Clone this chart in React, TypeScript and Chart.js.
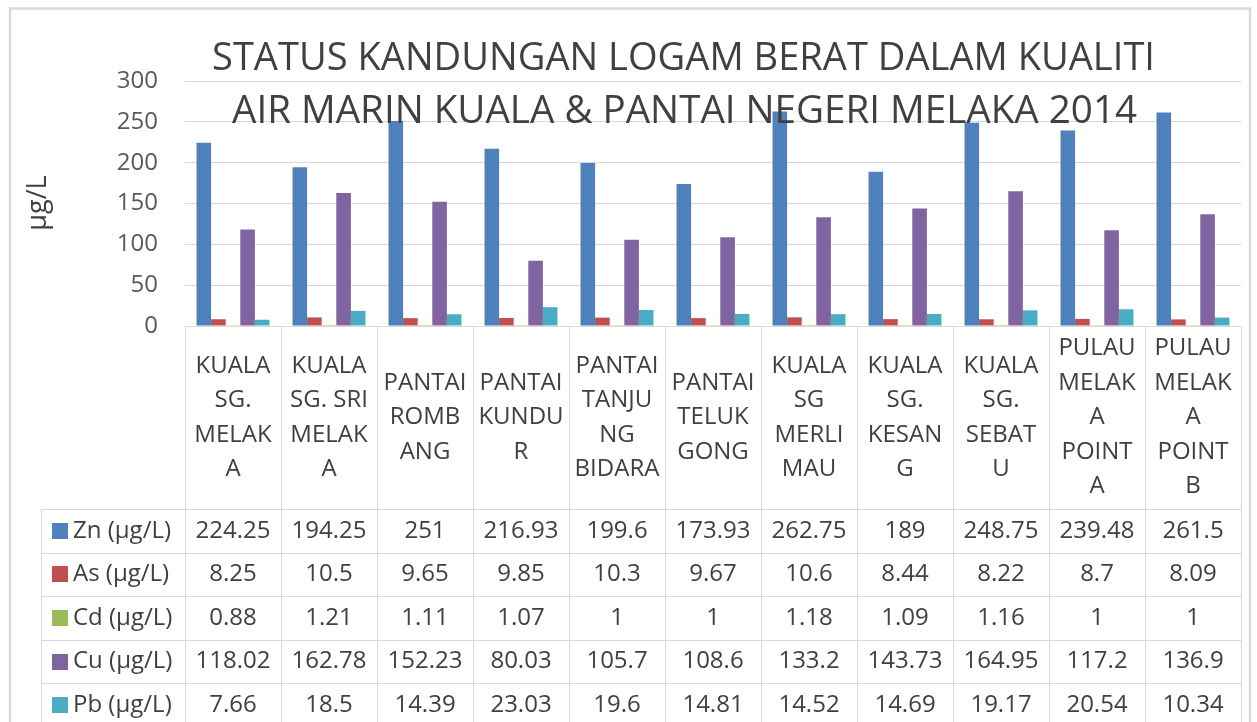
import React, { useEffect, useRef } from "react";
import { Chart, registerables } from "chart.js";

Chart.register(...registerables);

const titleLines = [
  "STATUS KANDUNGAN LOGAM BERAT DALAM KUALITI",
  "AIR MARIN KUALA & PANTAI NEGERI MELAKA 2014",
];
const yAxisTitle = "µg/L";

const categoryLines: string[][] = [
  ["KUALA", "SG.", "MELAK", "A"],
  ["KUALA", "SG. SRI", "MELAK", "A"],
  ["PANTAI", "ROMB", "ANG"],
  ["PANTAI", "KUNDU", "R"],
  ["PANTAI", "TANJU", "NG", "BIDARA"],
  ["PANTAI", "TELUK", "GONG"],
  ["KUALA", "SG", "MERLI", "MAU"],
  ["KUALA", "SG.", "KESAN", "G"],
  ["KUALA", "SG.", "SEBAT", "U"],
  ["PULAU", "MELAK", "A", "POINT", "A"],
  ["PULAU", "MELAK", "A", "POINT", "B"],
];

const seriesNames = ["Zn (µg/L)", "As (µg/L)", "Cd (µg/L)", "Cu (µg/L)", "Pb (µg/L)"];
const seriesColors = ["#4F81BD", "#C0504D", "#9BBB59", "#8064A2", "#4BACC6"];

const zn = [224.25, 194.25, 251, 216.93, 199.6, 173.93, 262.75, 189, 248.75, 239.48, 261.5];
const as = [8.25, 10.5, 9.65, 9.85, 10.3, 9.67, 10.6, 8.44, 8.22, 8.7, 8.09];
const cd = [0.88, 1.21, 1.11, 1.07, 1, 1, 1.18, 1.09, 1.16, 1, 1];
const cu = [118.02, 162.78, 152.23, 80.03, 105.7, 108.6, 133.2, 143.73, 164.95, 117.2, 136.9];
const pb = [7.66, 18.5, 14.39, 23.03, 19.6, 14.81, 14.52, 14.69, 19.17, 20.54, 10.34];

const seriesValues = [zn, as, cd, cu, pb];

const yMin = 0;
const yMax = 300;
const yStep = 50;

const FONT = "'Open Sans', 'Noto Sans', sans-serif";
const TEXT = "#404040";
const GRID = "#d9d9d9";

const tablePlugin = {
  id: "excelTable",
  beforeDraw(chart: any) {
    const ctx = chart.ctx;
    ctx.save();
    ctx.fillStyle = "#ffffff";
    ctx.fillRect(0, 0, chart.width, chart.height);
    ctx.restore();
  },
  afterDraw(chart: any) {
    const ctx = chart.ctx;
    const area = chart.chartArea;
    const xs = chart.scales.x;
    const n = categoryLines.length;
    const colW = (area.right - area.left) / n;
    const headerBottom = 509;
    const rowH = 43.6;
    const legendLeft = 41;
    const bottom = chart.height + 10;

    ctx.save();
    // frame
    ctx.strokeStyle = GRID;
    ctx.lineWidth = 2.5;
    ctx.strokeRect(10, 8.5, 1240, 800);

    // title
    ctx.fillStyle = TEXT;
    ctx.textAlign = "center";
    ctx.textBaseline = "alphabetic";
    ctx.font = `39px ${FONT}`;
    ctx.fillText(titleLines[0], 683.5, 70, 943);
    ctx.fillText(titleLines[1], 684.5, 123, 905);

    // y-axis title
    ctx.save();
    ctx.translate(38, 203);
    ctx.rotate(-Math.PI / 2);
    ctx.font = `27px ${FONT}`;
    ctx.textBaseline = "middle";
    ctx.fillText(yAxisTitle, 0, 0);
    ctx.restore();

    // table lines
    ctx.strokeStyle = GRID;
    ctx.lineWidth = 1;
    ctx.beginPath();
    for (let i = 0; i <= n; i++) {
      const x = Math.round(area.left + i * colW) + 0.5;
      ctx.moveTo(x, area.bottom);
      ctx.lineTo(x, bottom);
    }
    ctx.moveTo(legendLeft + 0.5, headerBottom);
    ctx.lineTo(legendLeft + 0.5, bottom);
    for (let r = 0; r <= seriesNames.length; r++) {
      const y = Math.round(headerBottom + r * rowH) + 0.5;
      ctx.moveTo(legendLeft, y);
      ctx.lineTo(area.right, y);
    }
    ctx.stroke();

    // category labels
    ctx.fillStyle = TEXT;
    ctx.font = `24px ${FONT}`;
    ctx.textAlign = "center";
    ctx.textBaseline = "middle";
    const lh = 34.5;
    const midY = (area.bottom + headerBottom) / 2;
    categoryLines.forEach((lines, i) => {
      const cx = xs.getPixelForValue(i);
      const y0 = midY - ((lines.length - 1) * lh) / 2;
      lines.forEach((t, j) => ctx.fillText(t, cx, y0 + j * lh));
    });

    // rows
    seriesNames.forEach((name, r) => {
      const cy = headerBottom + r * rowH + rowH / 2;
      ctx.fillStyle = seriesColors[r];
      ctx.fillRect(52, Math.round(cy - 8), 16, 16);
      ctx.fillStyle = TEXT;
      ctx.textAlign = "left";
      ctx.fillText(name, 73, cy);
      ctx.textAlign = "center";
      seriesValues[r].forEach((v, i) => {
        ctx.fillText(String(v), xs.getPixelForValue(i), cy);
      });
    });
    ctx.restore();
  },
};

export default function App() {
  const ref = useRef<HTMLCanvasElement | null>(null);
  useEffect(() => {
    if (!ref.current) return;
    const chart = new Chart(ref.current, {
      type: "bar",
      data: {
        labels: categoryLines.map((l) => l.join(" ")),
        datasets: seriesNames.map((name, i) => ({
          label: name,
          data: seriesValues[i],
          backgroundColor: seriesColors[i],
          borderWidth: 0,
          categoryPercentage: 0.76,
          barPercentage: 1,
        })),
      },
      options: {
        responsive: false,
        animation: false,
        devicePixelRatio: 1,
        layout: { padding: { left: 0, top: 81, right: 16, bottom: 396 } },
        plugins: {
          legend: { display: false },
          title: { display: false },
          tooltip: { enabled: false },
        },
        scales: {
          x: { display: false },
          y: {
            min: yMin,
            max: yMax,
            ticks: {
              stepSize: yStep,
              color: "#595959",
              font: { family: FONT, size: 24 },
              padding: 27,
            },
            grid: { color: GRID, lineWidth: 1, drawTicks: false },
            border: { display: false },
            afterFit: (scale: any) => {
              scale.width = 185;
            },
          },
        },
      },
      plugins: [tablePlugin],
    });
    return () => chart.destroy();
  }, []);
  return (
    <div style={{ position: "absolute", left: 0, top: 0, width: 1257, height: 722, background: "#fff" }}>
      <canvas ref={ref} width={1257} height={722} style={{ width: 1257, height: 722, display: "block" }} />
    </div>
  );
}
